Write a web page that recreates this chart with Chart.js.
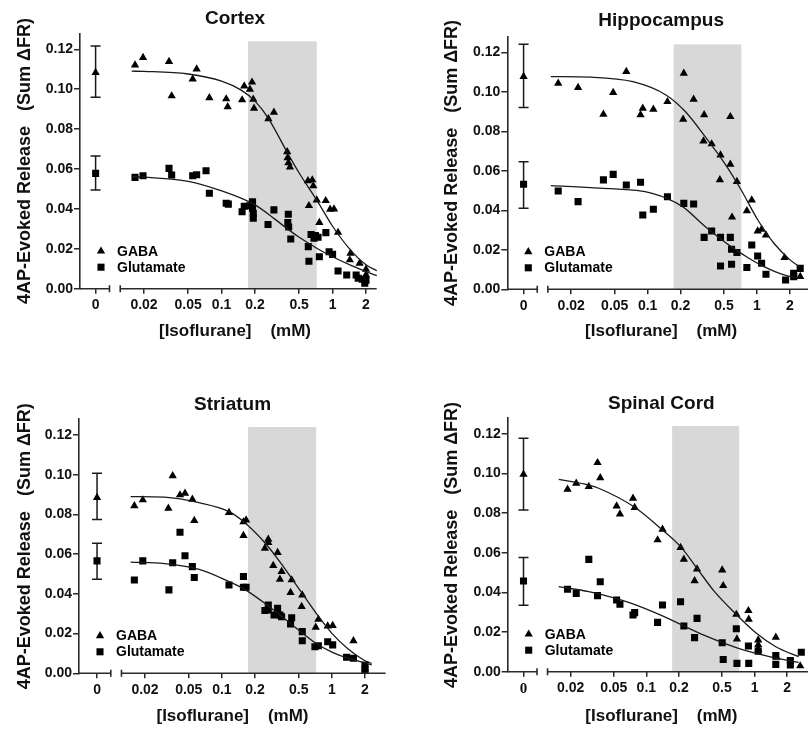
<!DOCTYPE html>
<html>
<head>
<meta charset="utf-8">
<title>Isoflurane and 4AP-evoked release</title>
<script src="https://cdn.jsdelivr.net/npm/chart.js@4.4.1/dist/chart.umd.min.js"></script>
<style>
  html, body { margin: 0; padding: 0; background: #fff; width: 808px; height: 731px; overflow: hidden; }
  canvas { position: absolute; }
</style>
</head>
<body>
<canvas id="cortex"></canvas>
<canvas id="hippo"></canvas>
<canvas id="striatum"></canvas>
<canvas id="spinal"></canvas>
<script>
// ---- data (concentration mM, sum dFR) ----
const panelTitles = ['Cortex', 'Hippocampus', 'Striatum', 'Spinal Cord'];
const seriesNames = ['GABA', 'Glutamate'];
const xTickVals = [0.02, 0.05, 0.1, 0.2, 0.5, 1, 2];
const xTickLabels = ['0.02', '0.05', '0.1', '0.2', '0.5', '1', '2'];
const ctrlLabel = '0';
const yTicks = [0, 0.02, 0.04, 0.06, 0.08, 0.10, 0.12];
const shadeRange = [0.173, 0.72];
const shadeTop = 0.124;
const yTitle = '4AP-Evoked Release   (Sum \u0394FR)';
const xTitle = '[Isoflurane]    (mM)';

// control: mean, low, high
const cortexCtrlGaba = [0.1083, 0.0959, 0.1216];
const cortexCtrlGlu = [0.0578, 0.0495, 0.0665];
const hippoCtrlGaba = [0.1077, 0.0920, 0.1241];
const hippoCtrlGlu = [0.0532, 0.0410, 0.0646];
const striatumCtrlGaba = [0.0885, 0.0775, 0.1007];
const striatumCtrlGlu = [0.0566, 0.0473, 0.0655];
const spinalCtrlGaba = [0.0996, 0.0816, 0.1178];
const spinalCtrlGlu = [0.0458, 0.0335, 0.0577];

const cortexGaba = [[0.0166,0.1121],[0.0196,0.1158],[0.0336,0.1138],[0.0355,0.0966],[0.0549,0.1051],[0.0596,0.1101],[0.0776,0.0957],[0.110,0.0951],[0.1135,0.0912],[0.153,0.0946],[0.160,0.1016],[0.180,0.0999],[0.188,0.1035],[0.193,0.0949],[0.196,0.0904],[0.264,0.0851],[0.296,0.0884],[0.390,0.0686],[0.393,0.0656],[0.400,0.0631],[0.413,0.0609],[0.600,0.0541],[0.656,0.0545],[0.670,0.0515],[0.612,0.0416],[0.720,0.0444],[0.760,0.0331],[0.867,0.0441],[0.950,0.0398],[1.03,0.0399],[1.12,0.0282],[1.45,0.0177],[1.43,0.0144],[1.75,0.0127],[2.0,0.0097],[2.0,0.0070]];
const cortexGlu = [[0.0166,0.0558],[0.0196,0.0566],[0.0336,0.0603],[0.0355,0.0570],[0.0549,0.0566],[0.0596,0.0571],[0.0724,0.0591],[0.0776,0.0478],[0.110,0.0428],[0.115,0.0424],[0.153,0.0386],[0.160,0.0413],[0.178,0.0416],[0.190,0.0436],[0.190,0.0403],[0.193,0.0378],[0.193,0.0353],[0.262,0.0322],[0.296,0.0395],[0.399,0.0373],[0.395,0.0331],[0.402,0.0309],[0.420,0.0249],[0.604,0.0211],[0.612,0.0138],[0.640,0.0272],[0.680,0.0253],[0.700,0.0267],[0.740,0.0258],[0.760,0.0160],[0.870,0.0281],[0.930,0.0185],[1.0,0.0172],[1.12,0.0089],[1.34,0.0069],[1.63,0.0069],[1.70,0.0052],[1.85,0.0047],[1.95,0.0027],[2.0,0.0042]];
const cortexGabaFit = [[0.0155,0.1090],[0.02,0.1089],[0.05,0.1076],[0.1,0.1040],[0.15,0.0995],[0.2,0.0940],[0.264,0.0854],[0.4,0.0672],[0.5,0.0580],[0.72,0.0444],[1.0,0.0313],[1.44,0.0196],[2.0,0.0120],[2.5,0.0090]];
const cortexGluFit = [[0.0155,0.0562],[0.02,0.0559],[0.05,0.0538],[0.1,0.0490],[0.2,0.0420],[0.3,0.0350],[0.4,0.0296],[0.5,0.0258],[0.72,0.0203],[1.0,0.0160],[1.5,0.0114],[2.0,0.0086],[2.5,0.0065]];

const hippoGaba = [[0.0152,0.1043],[0.0231,0.1021],[0.0394,0.0886],[0.0484,0.0996],[0.0638,0.1102],[0.0861,0.0883],[0.0903,0.0916],[0.1128,0.0911],[0.1518,0.0950],[0.2143,0.1094],[0.2113,0.0861],[0.2636,0.0962],[0.3289,0.0883],[0.3243,0.0751],[0.3855,0.0736],[0.4645,0.0680],[0.458,0.0554],[0.571,0.0874],[0.571,0.0633],[0.592,0.0365],[0.656,0.0545],[0.809,0.0397],[0.897,0.0452],[1.016,0.0295],[1.104,0.0304],[1.21,0.0275],[1.79,0.0160],[2.49,0.0064]];
const hippoGlu = [[0.0152,0.0498],[0.0231,0.0444],[0.0394,0.0554],[0.0484,0.0582],[0.0638,0.0528],[0.0861,0.0542],[0.0903,0.0376],[0.1128,0.0405],[0.1518,0.0469],[0.2143,0.0435],[0.2636,0.0432],[0.3289,0.0263],[0.3855,0.0295],[0.4645,0.0263],[0.4645,0.0118],[0.571,0.0263],[0.586,0.0203],[0.586,0.0127],[0.656,0.0186],[0.809,0.0110],[0.897,0.0224],[1.016,0.0169],[1.104,0.0132],[1.21,0.0076],[1.83,0.0047],[2.17,0.0081],[2.17,0.0064],[2.49,0.0106]];
const hippoGabaFit = [[0.013,0.1077],[0.03,0.1074],[0.0734,0.1051],[0.147,0.0984],[0.221,0.0900],[0.336,0.0773],[0.507,0.0638],[0.718,0.0503],[1.02,0.0351],[1.43,0.0233],[2.01,0.0149],[2.5,0.0111]];
const hippoGluFit = [[0.013,0.0525],[0.0367,0.0512],[0.11,0.0486],[0.207,0.0420],[0.336,0.0318],[0.58,0.0216],[0.83,0.0160],[1.16,0.0115],[1.77,0.0073],[2.5,0.0055]];

const striatumGaba = [[0.0160,0.0843],[0.0191,0.0873],[0.0326,0.0831],[0.0357,0.0994],[0.0416,0.0898],[0.0462,0.0906],[0.0539,0.0876],[0.0561,0.0769],[0.116,0.0809],[0.157,0.0693],[0.157,0.0762],[0.166,0.0772],[0.264,0.0675],[0.264,0.0658],[0.246,0.0629],[0.321,0.0608],[0.293,0.0542],[0.349,0.0512],[0.337,0.0473],[0.431,0.0470],[0.421,0.0406],[0.538,0.0394],[0.531,0.0336],[0.753,0.0272],[0.713,0.0232],[0.916,0.0238],[1.017,0.0240],[1.57,0.0164]];
const striatumGlu = [[0.0160,0.0470],[0.0191,0.0566],[0.033,0.0420],[0.0357,0.0557],[0.0416,0.0710],[0.0462,0.0592],[0.0539,0.0537],[0.0561,0.0482],[0.116,0.0445],[0.157,0.0487],[0.157,0.0433],[0.166,0.0433],[0.264,0.0344],[0.246,0.0316],[0.264,0.0319],[0.298,0.0294],[0.321,0.0327],[0.337,0.0294],[0.349,0.0285],[0.431,0.0280],[0.421,0.0248],[0.538,0.0210],[0.538,0.0164],[0.701,0.0134],[0.753,0.0139],[0.916,0.0159],[1.017,0.0143],[1.36,0.0081],[1.57,0.0076],[2.0,0.0042],[2.0,0.0022],[2.0,0.0005]];
const striatumGabaFit = [[0.0148,0.0890],[0.03,0.0887],[0.0632,0.0858],[0.116,0.0814],[0.157,0.0764],[0.256,0.0646],[0.362,0.0537],[0.51,0.0420],[0.72,0.0302],[1.0,0.0201],[1.38,0.0126],[1.93,0.0068],[2.3,0.0050]];
const striatumGluFit = [[0.0148,0.0560],[0.03,0.0552],[0.0632,0.0522],[0.116,0.0462],[0.16,0.0424],[0.256,0.0345],[0.445,0.0240],[0.72,0.0150],[1.0,0.0107],[1.38,0.0078],[2.3,0.0043]];

const spinalGaba = [[0.0187,0.0921],[0.0225,0.0951],[0.0294,0.0934],[0.0354,0.1055],[0.0375,0.0979],[0.0531,0.0836],[0.0570,0.0796],[0.0753,0.0875],[0.078,0.0828],[0.127,0.0665],[0.141,0.0719],[0.207,0.0626],[0.222,0.0567],[0.279,0.0459],[0.294,0.0518],[0.502,0.0513],[0.513,0.0434],[0.678,0.0289],[0.687,0.0165],[0.877,0.0308],[0.883,0.0264],[1.08,0.0160],[1.08,0.0135],[1.08,0.0113],[1.57,0.0173],[1.60,0.0072],[2.64,0.0029]];
const spinalGlu = [[0.0187,0.0416],[0.0225,0.0395],[0.0294,0.0567],[0.0354,0.0384],[0.0375,0.0454],[0.0531,0.0362],[0.0570,0.0340],[0.0753,0.0286],[0.078,0.0298],[0.127,0.0249],[0.141,0.0337],[0.207,0.0353],[0.222,0.0231],[0.279,0.0172],[0.294,0.0269],[0.502,0.0146],[0.513,0.0062],[0.678,0.0217],[0.687,0.0042],[0.877,0.0130],[0.883,0.0042],[1.08,0.0104],[1.57,0.0081],[1.57,0.0037],[2.14,0.0056],[2.14,0.0034],[2.7,0.0098]];
const spinalGabaFit = [[0.0155,0.0971],[0.0294,0.0942],[0.0363,0.0926],[0.078,0.0830],[0.141,0.0715],[0.207,0.0631],[0.294,0.0522],[0.415,0.0412],[0.678,0.0289],[1.04,0.0194],[1.57,0.0126],[2.55,0.0076]];
const spinalGluFit = [[0.0155,0.0429],[0.0294,0.0404],[0.0728,0.0345],[0.146,0.0278],[0.222,0.0231],[0.34,0.0185],[0.513,0.0146],[0.83,0.0106],[1.37,0.0076],[2.55,0.0047]];

// ---- layout (page pixels) ----
// broken axis: control column and start of the log part, in log10 units
const CTRL_U = -2.135, CTRL_END = -2.01, LOG_START = -1.913;
const panels = [
  {id: 'cortex',   left: 0,   top: 0,   w: 400, h: 345, axisX: 80,    right: 390, y0: 288.7, yTop: 33.3,  xmin: -2.2756, decade: 111, axisEnd: 0.397, titleY: 18.3,  yTitleX: 25,    xTitleY: 331.7},
  {id: 'hippo',    left: 400, top: 0,   w: 420, h: 345, axisX: 507.3, right: 817, y0: 289.3, yTop: 36.5,  xmin: -2.284,  decade: 110, axisEnd: 0.53,  titleY: 20.7,  yTitleX: 451.7, xTitleY: 331.7},
  {id: 'striatum', left: 0,   top: 370, w: 400, h: 361, axisX: 79,    right: 386, y0: 673.3, yTop: 419.1, xmin: -2.299,  decade: 110, axisEnd: 0.489, titleY: 405,   yTitleX: 25,    xTitleY: 716.7},
  {id: 'spinal',   left: 400, top: 370, w: 420, h: 361, axisX: 507.7, right: 820, y0: 671.7, yTop: 418.1, xmin: -2.281,  decade: 110, axisEnd: 0.558, titleY: 403.3, yTitleX: 451.7, xTitleY: 716.7, serifZero: true}
];

Chart.defaults.font.family = "'Liberation Sans', Arial, sans-serif";
Chart.defaults.color = '#111';

const AXIS = '#2a2a2a';
const TRI_R = 4.8, SQ_R = 5;
const toXY = a => a.map(([c, v]) => ({x: Math.log10(c), y: v}));

function drawMarker(ctx, style, mx, my) {
  ctx.beginPath();
  if (style === 'triangle') {
    ctx.moveTo(mx, my - TRI_R);
    ctx.lineTo(mx + TRI_R * 0.866, my + TRI_R / 2);
    ctx.lineTo(mx - TRI_R * 0.866, my + TRI_R / 2);
    ctx.closePath();
  } else {
    const s = SQ_R * Math.SQRT2;
    ctx.rect(mx - s / 2, my - s / 2, s, s);
  }
  ctx.fill();
}

function build(p, title, gaba, glu, gabaFit, gluFit, ctrlGaba, ctrlGlu) {
  const cv = document.getElementById(p.id);
  cv.width = p.w;
  cv.height = p.h;
  cv.style.left = p.left + 'px';
  cv.style.top = p.top + 'px';

  const xmax = p.xmin + (p.right - p.axisX) / p.decade;
  const tT = p.titleY - p.top - 11.4;
  const tB = p.yTop - p.top - 22.8 - tT;

  const fitStyle = {showLine: true, pointRadius: 0, borderColor: '#1a1a1a', borderWidth: 1.3,
    cubicInterpolationMode: 'monotone', fill: false};
  const triStyle = {showLine: false, pointStyle: 'triangle', pointRadius: TRI_R,
    backgroundColor: '#000', borderColor: '#000', borderWidth: 0};
  const sqStyle = {showLine: false, pointStyle: 'rect', pointRadius: SQ_R,
    backgroundColor: '#000', borderColor: '#000', borderWidth: 0};

  const decor = {
    id: 'decor',
    beforeDatasetsDraw(chart) {
      const {ctx, scales: {x, y}} = chart;
      ctx.save();
      // shaded concentration range
      const xa = x.getPixelForValue(Math.log10(shadeRange[0]));
      const xb = x.getPixelForValue(Math.log10(shadeRange[1]));
      const yt = y.getPixelForValue(shadeTop), yb = y.getPixelForValue(0);
      ctx.fillStyle = '#d8d8d8';
      ctx.fillRect(xa, yt, xb - xa, yb - yt);
      // control error bars
      ctx.strokeStyle = '#1a1a1a';
      ctx.lineWidth = 1.5;
      const cx = x.getPixelForValue(CTRL_U);
      for (const e of [ctrlGaba, ctrlGlu]) {
        const lo = y.getPixelForValue(e[1]), hi = y.getPixelForValue(e[2]);
        ctx.beginPath();
        ctx.moveTo(cx, lo); ctx.lineTo(cx, hi);
        ctx.moveTo(cx - 5, lo); ctx.lineTo(cx + 5, lo);
        ctx.moveTo(cx - 5, hi); ctx.lineTo(cx + 5, hi);
        ctx.stroke();
      }
      ctx.restore();
    },
    afterDraw(chart) {
      const {ctx, chartArea: a, scales: {x, y}} = chart;
      const yb = y.getPixelForValue(0);
      ctx.save();
      // broken x axis
      ctx.strokeStyle = AXIS;
      ctx.lineWidth = 1.6;
      ctx.beginPath();
      ctx.moveTo(a.left, yb);
      ctx.lineTo(x.getPixelForValue(CTRL_END), yb);
      ctx.moveTo(x.getPixelForValue(LOG_START), yb);
      ctx.lineTo(x.getPixelForValue(p.axisEnd), yb);
      for (const v of [CTRL_END, LOG_START]) {
        const px = x.getPixelForValue(v);
        ctx.moveTo(px, yb - 3.5);
        ctx.lineTo(px, yb + 3.5);
      }
      ctx.stroke();
      // legend
      ctx.fillStyle = '#000';
      ctx.font = "bold 14px 'Liberation Sans', Arial, sans-serif";
      ctx.textBaseline = 'middle';
      ['triangle', 'rect'].forEach((st, i) => {
        const my = yb - 37.5 + i * 16;
        drawMarker(ctx, st, a.left + 21, my);
        ctx.fillText(seriesNames[i], a.left + 37, my + 0.5);
      });
      ctx.restore();
    }
  };

  return new Chart(cv, {
    type: 'scatter',
    data: {
      datasets: [
        {label: seriesNames[0] + ' fit', data: toXY(gabaFit), ...fitStyle},
        {label: seriesNames[1] + ' fit', data: toXY(gluFit), ...fitStyle},
        {label: seriesNames[0], data: toXY(gaba).concat([{x: CTRL_U, y: ctrlGaba[0]}]), ...triStyle},
        {label: seriesNames[1], data: toXY(glu).concat([{x: CTRL_U, y: ctrlGlu[0]}]), ...sqStyle}
      ]
    },
    options: {
      responsive: false,
      animation: false,
      events: [],
      layout: {padding: {left: 0, top: 0, bottom: 0, right: p.left + p.w - p.right}},
      plugins: {
        legend: {display: false},
        tooltip: {enabled: false},
        title: {
          display: true, text: title, fullSize: false, color: '#111',
          font: {size: 19, weight: 'bold'},
          padding: {top: tT, bottom: tB}
        }
      },
      scales: {
        x: {
          type: 'linear', position: 'bottom', min: p.xmin, max: xmax,
          border: {display: false},
          grid: {drawOnChartArea: false, drawTicks: true, tickLength: 5, color: AXIS, lineWidth: 1.5},
          afterBuildTicks: s => {
            s.ticks = [CTRL_U].concat(xTickVals.map(v => Math.log10(v))).map(v => ({value: v}));
          },
          afterFit: s => { s.height = p.top + p.h - p.y0; },
          ticks: {
            autoSkip: false, maxRotation: 0, padding: 3, color: '#111',
            font: c => (p.serifZero && c.index === 0)
              ? {family: "'Liberation Serif', 'Times New Roman', serif", size: 15, weight: 'bold'}
              : {size: 14, weight: 'bold'},
            callback: (v, i) => i === 0 ? ctrlLabel : xTickLabels[i - 1]
          },
          title: {
            display: true, text: xTitle, color: '#111',
            font: {size: 17, weight: 'bold'},
            padding: {top: 0, bottom: p.top + p.h - p.xTitleY - 10.2}
          }
        },
        y: {
          type: 'linear', min: 0, max: 0.128,
          border: {display: true, color: AXIS, width: 1.6},
          grid: {drawOnChartArea: false, drawTicks: true, tickLength: 6, color: AXIS, lineWidth: 1.5},
          afterBuildTicks: s => { s.ticks = yTicks.map(v => ({value: v})); },
          afterFit: s => { s.width = p.axisX - p.left; },
          ticks: {
            padding: 1, color: '#111',
            font: {size: 14, weight: 'bold'},
            callback: v => v.toFixed(2)
          },
          title: {
            display: true, text: yTitle, color: '#111',
            font: {size: 18, weight: 'bold'},
            padding: {top: p.yTitleX - p.left - 10.8, bottom: 0}
          }
        }
      }
    },
    plugins: [decor]
  });
}

build(panels[0], panelTitles[0], cortexGaba, cortexGlu, cortexGabaFit, cortexGluFit, cortexCtrlGaba, cortexCtrlGlu);
build(panels[1], panelTitles[1], hippoGaba, hippoGlu, hippoGabaFit, hippoGluFit, hippoCtrlGaba, hippoCtrlGlu);
build(panels[2], panelTitles[2], striatumGaba, striatumGlu, striatumGabaFit, striatumGluFit, striatumCtrlGaba, striatumCtrlGlu);
build(panels[3], panelTitles[3], spinalGaba, spinalGlu, spinalGabaFit, spinalGluFit, spinalCtrlGaba, spinalCtrlGlu);
</script>
</body>
</html>
